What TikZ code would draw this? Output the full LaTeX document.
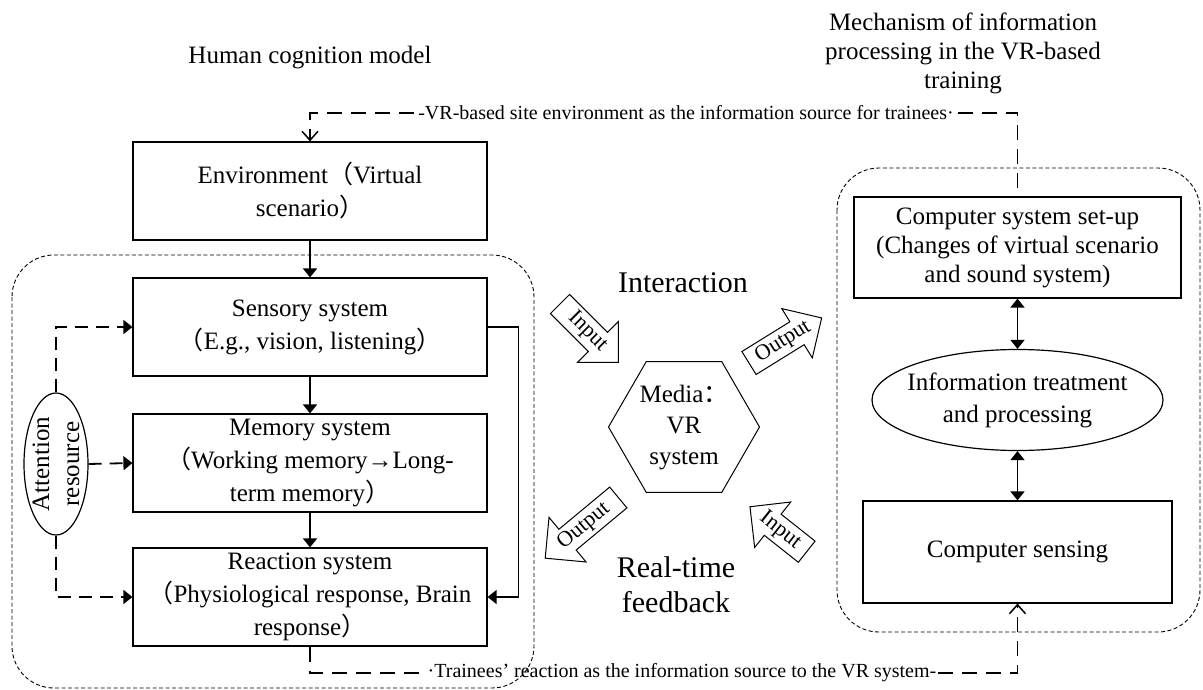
\documentclass[tikz,border=0pt]{standalone}
\usepackage{fontspec}
\setmainfont{Liberation Serif}
\newfontfamily\cjkfont{Noto Sans CJK SC}
\usetikzlibrary{arrows.meta,shapes.geometric}
\newcommand\fwlp{{\cjkfont （}}
\newcommand\fwrp{{\cjkfont ）}}
\newcommand\fwcolon{{\cjkfont ：}}
\newcommand\blkarrow[7]{%
  \begin{scope}[shift={(#1,#2)},rotate=#3]
    \draw[line width=1pt] (0,-13.5) -- ({#4-29},-13.5) -- ({#4-29},-29) -- (#4,0)
      -- ({#4-29},29) -- ({#4-29},13.5) -- (0,13.5) -- cycle;
    \node[rotate=#5, font=\fontsize{22}{24}\selectfont, inner sep=0pt] (#7) at ({0.47*#4},0) {#6};
  \end{scope}}
\begin{document}
\begin{tikzpicture}[x=1pt,y=-1pt,
  box/.style={draw, line width=1.2pt, minimum width=354pt, minimum height=98pt,
    align=center, inner sep=0pt, font=\fontsize{25}{33}\selectfont},
  rbox/.style={draw, line width=1.2pt, align=center, inner sep=0pt,
    font=\fontsize{25}{29}\selectfont},
  txt/.style={align=center, inner sep=0pt, font=\fontsize{25}{32}\selectfont},
  conn/.style={line width=1.5pt, -{Triangle[width=14pt,length=9pt]}},
  dbl/.style={line width=1.5pt, {Triangle[width=14pt,length=9pt]}-{Triangle[width=14pt,length=9pt]}},
  dconn/.style={line width=1.8pt, dash pattern=on 15pt off 9pt},
  datt/.style={line width=1.8pt, dash pattern=on 13pt off 8pt, -{Triangle[width=14pt,length=9pt]}},
  openhead/.style={-{Straight Barb[width=16pt,length=9pt,line width=1.5pt]}},
  cont/.style={line width=0.9pt, dash pattern=on 4pt off 2.5pt, rounded corners=42pt},
  lab/.style={inner sep=0pt, font=\fontsize{20}{24}\selectfont}
]
\useasboundingbox (0,0) rectangle (1203,690);

% titles
\node[txt, anchor=base] (t1) at (310,64) {Human cognition model};
\node[txt, font=\fontsize{25}{29}\selectfont] (t2) at (963,53) {Mechanism of information\\processing in the VR-based\\training};

% containers
\draw[cont] (12,255) rectangle (534,688);
\draw[cont] (837,168) rectangle (1200,632);

% left column
\node[box] (env) at (310,191) {Environment\fwlp Virtual\\scenario\fwrp};
\node[box] (sens) at (310,327) {Sensory system\\\fwlp E.g., vision, listening\fwrp};
\node[box] (mem) at (310,463) {Memory system\\\fwlp Working memory→Long-\\term memory\fwrp};
\node[box] (react) at (310,597) {Reaction system\\\fwlp Physiological response, Brain\\response\fwrp};

\draw[conn] (env.south) -- (sens.north);
\draw[conn] (sens.south) -- (mem.north);
\draw[conn] (mem.south) -- (react.north);
\draw[conn] (sens.east) -- ++(31,0) |- (react.east);

% attention
\node[ellipse, draw, line width=1.2pt, minimum width=64pt, minimum height=142pt, inner sep=0pt] (att) at (56,464) {};
\node[txt, rotate=90, font=\fontsize{25}{30}\selectfont] (atttxt) at (att.center) {Attention\\resource};
\draw[datt] (att.north) |- (sens.west);
\draw[datt] (att.east) -- (mem.west);
\draw[datt] (att.south) |- (react.west);

% right column
\node[rbox, minimum width=327pt, minimum height=101pt] (setup) at (1017.5,247.5) {Computer system set-up\\(Changes of virtual scenario\\and sound system)};
\node[ellipse, draw, line width=1.2pt, minimum width=291pt, minimum height=101pt, inner sep=0pt] (proc) at (1017.5,400) {};
\node[txt] (proctxt) at (proc.center) {Information treatment\\and processing};
\node[rbox, minimum width=309pt, minimum height=102pt] (csens) at (1017.5,552) {Computer sensing};
\draw[dbl] (setup.south) -- (proc.north);
\draw[dbl] (proc.south) -- (csens.north);

% media hexagon
\draw[line width=1pt] (684,427) +(0:75.5) -- +(60:75.5) -- +(120:75.5) -- +(180:75.5) -- +(240:75.5) -- +(300:75.5) -- cycle;
\node[txt, font=\fontsize{25}{31}\selectfont] (media) at (684,428) {Media\fwcolon\\VR\\system};

\node[inner sep=0pt, font=\fontsize{30}{33}\selectfont] (inter) at (683,283) {Interaction};
\node[align=center, inner sep=0pt, font=\fontsize{30}{35}\selectfont] (rt) at (676,585) {Real-time\\feedback};

% block arrows
\blkarrow{560}{304}{-45}{82.7}{-45}{Input}{a1}
\blkarrow{749}{363}{31.8}{85.5}{31.8}{Output}{a2}
\blkarrow{618.3}{497.5}{219.7}{95}{39.7}{Output}{a3}
\blkarrow{806.7}{551.7}{141.6}{72.4}{-38.4}{Input}{a4}

% long dashed connectors
\node[lab] (toplab) at (686,113) {-VR-based site environment as the information source for trainees·};
\draw[dconn] ([xshift=4pt]toplab.east) -| (setup.north);
\draw[dconn, openhead] ([xshift=-4pt]toplab.west) -| (env.north);
\node[lab] (botlab) at (682,673) {·Trainees’ reaction as the information source to the VR system-};
\draw[dconn] (react.south) |- (botlab.west);
\draw[dconn, openhead] ([xshift=2pt]botlab.east) -| (csens.south);
\end{tikzpicture}
\end{document}
